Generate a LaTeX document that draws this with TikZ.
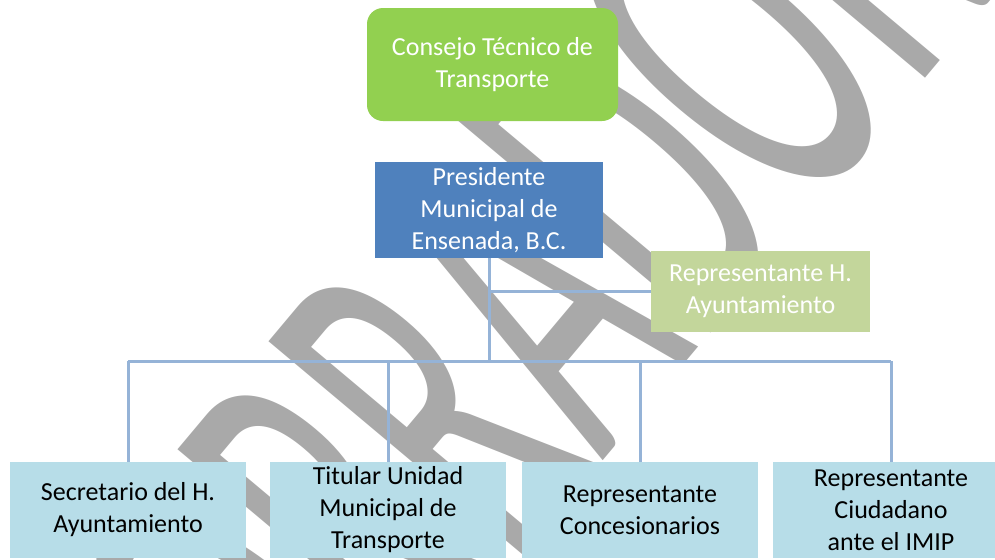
\documentclass[tikz,border=0pt]{standalone}
\usepackage{fontspec}
\setmainfont{Carlito}
\usetikzlibrary{positioning}

\definecolor{verdecons}{HTML}{92D050}
\definecolor{azulpres}{HTML}{4F81BD}
\definecolor{olivorep}{HTML}{C3D69B}
\definecolor{celeste}{HTML}{B7DDE8}
\definecolor{lineaazul}{HTML}{95B3D7}
\definecolor{marcagris}{HTML}{A9A9A9}

\tikzset{
  caja/.style={rectangle, inner sep=2pt, align=center,
    font=\fontsize{13}{16}\selectfont},
  cajaarriba/.style={caja, text=white},
  cajaabajo/.style={caja, fill=celeste, text=black,
    minimum width=118pt, minimum height=48pt},
  conector/.style={draw=lineaazul, line width=1.5pt}
}

\begin{document}
\begin{tikzpicture}[x=0.5pt, y=-0.5pt]

\useasboundingbox (0,0) rectangle (995,559);
\clip (0,0) rectangle (995,559);

% --- Marca de agua ---
\node[rotate=50, text=marcagris, inner sep=0pt,
  font=\fontsize{260}{260}\selectfont] (marca) at (484,344)
  {\scalebox{0.5}[1]{BORRADOR}};

% --- Cajas superiores ---
\node[cajaarriba, fill=verdecons, rounded corners=8pt,
  minimum width=125.5pt, minimum height=56.5pt] (consejo) at (492.5,64.5)
  {Consejo Técnico de\\Transporte};
\node[cajaarriba, fill=azulpres,
  minimum width=114pt, minimum height=48pt] (pres) at (489,210)
  {Presidente\\Municipal de\\Ensenada, B.C.};
\node[cajaarriba, fill=olivorep,
  minimum width=109.5pt, minimum height=40.5pt] (rep) at (760.5,291.5)
  {Representante H.\\Ayuntamiento};

% --- Cajas inferiores ---
\node[cajaabajo] (sec) at (128,510) {Secretario del H.\\Ayuntamiento};
\node[cajaabajo] (tit) at (388,510) {Titular Unidad\\Municipal de\\Transporte};
\node[cajaabajo] (rco) at (640,510) {Representante\\Concesionarios};
\node[cajaabajo] (rci) at (891,510) {Representante\\Ciudadano\\ante el IMIP};

% --- Conectores ---
\coordinate (bus) at (pres.south |- 0,361);
\draw[conector] (pres.south) -- (bus);
\draw[conector] (rep.west) -- (rep.west -| pres.south);
\draw[conector] (sec.north |- bus) -- (rci.north |- bus);
\foreach \n in {sec,tit,rco,rci}{
    \draw[conector] (\n.north |- bus) -- (\n.north);
}

\end{tikzpicture}
\end{document}
